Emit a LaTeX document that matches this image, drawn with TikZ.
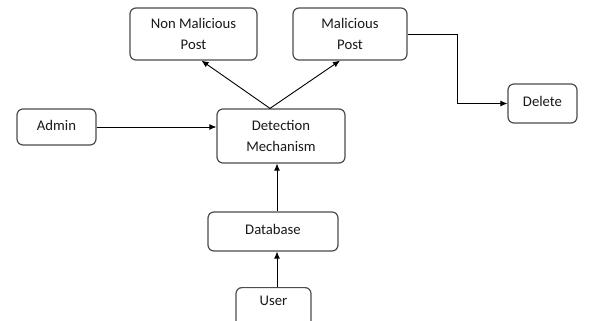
\documentclass[tikz,border=0pt]{standalone}
\usepackage{fontspec}
\setmainfont{Carlito}
\usetikzlibrary{arrows.meta,calc}
\begin{document}
\begin{tikzpicture}[x=1pt,y=-1pt,
  box/.style={draw=black!70, line width=1.2pt, rounded corners=6pt, fill=white,
    inner sep=0pt, align=center, font=\fontsize{14.7}{20.5}\selectfont, text=black!90},
  oneline/.style={text height=10.5pt, text depth=4pt},
  link/.style={draw=black, line width=0.9pt, -{Latex[length=7pt,width=6pt]}}]
  \useasboundingbox (0,0) rectangle (590,321);
  % boxes
  \node[box, minimum width=127pt, minimum height=52pt] (nm) at (193.5,34) {Non Malicious\\Post};
  \node[box, minimum width=114pt, minimum height=52pt] (mp) at (350,34) {Malicious\\Post};
  \node[box, oneline, minimum width=69pt, minimum height=39pt] (del) at (542.5,103.5) {Delete};
  \node[box, oneline, minimum width=79pt, minimum height=36pt] (admin) at (56.5,127) {Admin};
  \node[box, minimum width=128pt, minimum height=54pt] (dm) at (281,136) {Detection\\Mechanism};
  \node[box, oneline, minimum width=130pt, minimum height=39pt] (db) at (273,231.5) {Database};
  \node[box, minimum width=75pt, minimum height=40pt, anchor=north] (user) at (273.5,287) {};
  \node[font=\fontsize{14.7}{20.5}\selectfont, text=black!90, oneline] (userlbl) at (273.5,302) {User};
  % connector end points
  \coordinate (fork) at ($(dm.north)+(-11,0)$);
  \coordinate (nmin) at ($(nm.south)+(8,0)$);
  \coordinate (mpin) at ($(mp.south)+(-10,0)$);
  \coordinate (dbout) at ($(db.north)+(4,0)$);
  \coordinate (userout) at ($(user.north)+(3.5,0)$);
  % connectors
  \draw[link] (fork) -- (nmin);
  \draw[link] (fork) -- (mpin);
  \draw[link] (admin.east) -- (admin.east -| dm.west);
  \draw[link] (dbout) -- (dbout |- dm.south);
  \draw[link] (userout) -- (userout |- db.south);
  \draw[link] (mp.east) -- ++(50,0) |- (del.west);
\end{tikzpicture}
\end{document}
